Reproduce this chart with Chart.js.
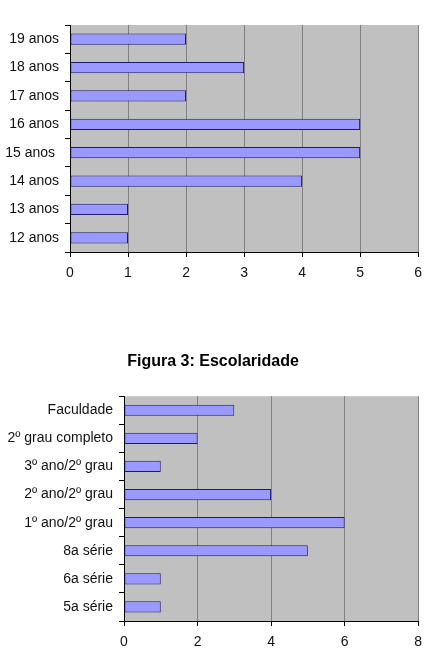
<!DOCTYPE html>
<html>
<head>
<meta charset="utf-8">
<script src="https://cdn.jsdelivr.net/npm/chart.js@4/dist/chart.umd.min.js"></script>
<style>
  body { margin: 0; background: #fff; }
  .box { position: absolute; left: 0; width: 430px; }
  #ageBox { top: 0; height: 300px; }
  #schoolBox { top: 330px; height: 327px; }
</style>
</head>
<body>
<div class="box" id="ageBox"><canvas id="ageChart"></canvas></div>
<div class="box" id="schoolBox"><canvas id="schoolChart"></canvas></div>
<script>
const ageLabels = ['12 anos', '13 anos', '14 anos', '15 anos ', '16 anos', '17 anos', '18 anos', '19 anos'];
const ageValues = [1, 1, 4, 5, 5, 2, 3, 2];

const schoolLabels = ['5a série', '6a série', '8a série', '1º ano/2º grau', '2º ano/2º grau', '3º ano/2º grau', '2º grau completo', 'Faculdade'];
const schoolValues = [1, 1, 5, 6, 4, 1, 2, 3];

const fontFamily = '"Liberation Sans", Arial, sans-serif';

// grey plot background like the old spreadsheet charts
const plotBackground = {
    id: 'plotBackground',
    beforeDraw(chart) {
        const { ctx, chartArea: a } = chart;
        ctx.save();
        ctx.fillStyle = '#c0c0c0';
        ctx.fillRect(a.left, a.top, a.right - a.left, a.bottom - a.top);
        ctx.restore();
    }
};

const makeChart = (id, labels, values, xMax, xStep, yWidth, xHeight, padding, title) => {
    return new Chart(document.getElementById(id), {
        type: 'bar',
        data: {
            labels: labels,
            datasets: [{
                data: values,
                backgroundColor: '#9999ff',
                borderColor: '#1a1a6e',
                borderWidth: 1,
                borderSkipped: false,
                barPercentage: 0.4,
                categoryPercentage: 1
            }]
        },
        options: {
            indexAxis: 'y',
            responsive: true, maintainAspectRatio: false,
            animation: false,
            layout: { padding: padding },
            scales: {
                x: {
                    min: 0, max: xMax,
                    ticks: { stepSize: xStep, padding: 8, color: '#111', font: { family: fontFamily, size: 14 } },
                    grid: {
                        color: (c) => c.index === 0 ? 'rgba(0,0,0,0)' : '#808080',
                        tickColor: '#000',
                        tickLength: 5
                    },
                    border: { display: true, color: '#000', width: 1 },
                    afterFit: (axis) => { axis.height = xHeight; }
                },
                y: {
                    reverse: true,
                    ticks: { padding: 6, color: '#111', font: { family: fontFamily, size: 14 } },
                    grid: { drawOnChartArea: false, tickColor: '#000', tickLength: 5 },
                    border: { display: true, color: '#000', width: 1 },
                    afterFit: (axis) => { axis.width = yWidth; }
                }
            },
            plugins: {
                legend: { display: false },
                tooltip: { enabled: false },
                title: title ? {
                    display: true, text: title, color: '#000',
                    font: { family: fontFamily, size: 16, weight: 'bold' },
                    padding: { top: 22, bottom: 25 }
                } : { display: false }
            }
        },
        plugins: [plotBackground]
    });
};

makeChart('ageChart', ageLabels, ageValues, 6, 1, 70, 39, { top: 25, right: 10, bottom: 9 }, null);
makeChart('schoolChart', schoolLabels, schoolValues, 8, 2, 117, 36, { top: 0, left: 7, right: 11, bottom: 0 }, 'Figura 3: Escolaridade');
</script>
</body>
</html>
